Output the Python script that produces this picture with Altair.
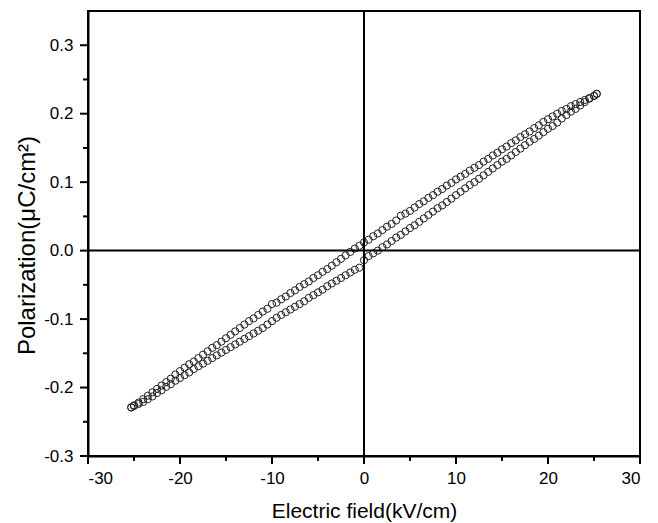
import altair as alt
import pandas as pd

# Electric field sample points (kV/cm), shared by both branches
E_FIELD = [-25.3, -25.0, -24.5, -24.0, -23.5, -23.0, -22.5, -22.0, -21.5, -21.0,
           -20.5, -20.0, -19.5, -19.0, -18.5, -18.0, -17.5, -17.0, -16.5, -16.0,
           -15.5, -15.0, -14.5, -14.0, -13.5, -13.0, -12.5, -12.0, -11.5, -11.0,
           -10.5, -10.0, -9.5, -9.0, -8.5, -8.0, -7.5, -7.0, -6.5, -6.0,
           -5.5, -5.0, -4.5, -4.0, -3.5, -3.0, -2.5, -2.0, -1.5, -1.0,
           -0.5, 0.0, 0.5, 1.0, 1.5, 2.0, 2.5, 3.0, 3.5, 4.0,
           4.5, 5.0, 5.5, 6.0, 6.5, 7.0, 7.5, 8.0, 8.5, 9.0,
           9.5, 10.0, 10.5, 11.0, 11.5, 12.0, 12.5, 13.0, 13.5, 14.0,
           14.5, 15.0, 15.5, 16.0, 16.5, 17.0, 17.5, 18.0, 18.5, 19.0,
           19.5, 20.0, 20.5, 21.0, 21.5, 22.0, 22.5, 23.0, 23.5, 24.0,
           24.5, 25.0, 25.3]

# Descending-field branch (upper) polarization, uC/cm^2
P_UPPER = [-0.229, -0.226, -0.222, -0.217, -0.212, -0.207, -0.202, -0.197, -0.192, -0.187,
           -0.181, -0.176, -0.171, -0.166, -0.162, -0.157, -0.152, -0.147, -0.142, -0.138,
           -0.133, -0.128, -0.123, -0.118, -0.113, -0.108, -0.103, -0.099, -0.094, -0.089,
           -0.085, -0.078, -0.076, -0.071, -0.067, -0.062, -0.058, -0.053, -0.049, -0.045,
           -0.040, -0.036, -0.031, -0.027, -0.022, -0.017, -0.012, -0.007, -0.002, 0.003,
           0.007, 0.012, 0.016, 0.021, 0.025, 0.030, 0.035, 0.039, 0.044, 0.051,
           0.054, 0.058, 0.063, 0.068, 0.072, 0.077, 0.081, 0.086, 0.090, 0.095,
           0.099, 0.104, 0.108, 0.112, 0.117, 0.121, 0.125, 0.130, 0.134, 0.139,
           0.143, 0.148, 0.152, 0.157, 0.161, 0.166, 0.170, 0.174, 0.179, 0.183,
           0.188, 0.192, 0.196, 0.200, 0.204, 0.207, 0.211, 0.214, 0.217, 0.220,
           0.223, 0.226, 0.229]

# Ascending-field branch (lower) polarization, uC/cm^2
P_LOWER = [-0.229, -0.227, -0.224, -0.221, -0.217, -0.213, -0.208, -0.204, -0.199, -0.195,
           -0.190, -0.186, -0.182, -0.178, -0.173, -0.169, -0.165, -0.161, -0.157, -0.153,
           -0.149, -0.145, -0.141, -0.137, -0.133, -0.129, -0.125, -0.121, -0.117, -0.113,
           -0.108, -0.103, -0.098, -0.094, -0.090, -0.086, -0.082, -0.078, -0.074, -0.069,
           -0.065, -0.061, -0.057, -0.052, -0.048, -0.044, -0.040, -0.036, -0.032, -0.028,
           -0.025, -0.014, -0.008, -0.004, 0.000, 0.005, 0.009, 0.014, 0.019, 0.023,
           0.028, 0.033, 0.037, 0.042, 0.047, 0.052, 0.057, 0.062, 0.066, 0.071,
           0.076, 0.081, 0.086, 0.091, 0.096, 0.100, 0.105, 0.110, 0.115, 0.120,
           0.125, 0.130, 0.134, 0.139, 0.144, 0.149, 0.154, 0.159, 0.163, 0.168,
           0.173, 0.178, 0.182, 0.187, 0.193, 0.198, 0.203, 0.207, 0.212, 0.217,
           0.222, 0.226, 0.229]

X_MAJOR = [-30, -20, -10, 0, 10, 20, 30]
X_MINOR = [-25, -15, -5, 5, 15, 25]
Y_MAJOR = [-0.3, -0.2, -0.1, 0.0, 0.1, 0.2, 0.3]
Y_MINOR = [-0.25, -0.15, -0.05, 0.05, 0.15, 0.25]
X_DOMAIN = [-30, 30]
Y_DOMAIN = [-0.3, 0.35]

W, H = 552, 445
MAJOR_LEN, MINOR_LEN = 8, 5

n = len(E_FIELD)
df = pd.DataFrame({
    "E": E_FIELD + E_FIELD,
    "P": P_UPPER + P_LOWER,
    "branch": ["down"] * n + ["up"] * n,
})

FONT = "Liberation Sans"

xscale = alt.Scale(domain=X_DOMAIN, nice=False, zero=False)
yscale = alt.Scale(domain=Y_DOMAIN, nice=False, zero=False)

xaxis = alt.Axis(
    orient="bottom", values=X_MAJOR, ticks=False,
    labelExpr="'' + datum.value",
    domainColor="black", domainWidth=2,
    grid=False, labelFont=FONT, labelFontSize=17, labelColor="black", labelPadding=14,
    title="Electric field(kV/cm)", titleFont=FONT, titleFontSize=21,
    titleFontWeight="normal", titleColor="black", titlePadding=14,
)
yaxis = alt.Axis(
    orient="left", values=Y_MAJOR, ticks=False,
    labelExpr="replace(format(datum.value, '.1f'), '\u2212', '-')",
    domainColor="black", domainWidth=2,
    grid=False, labelFont=FONT, labelFontSize=17, labelColor="black", labelPadding=15,
    title="Polarization(\u03bcC/cm\u00b2)", titleFont=FONT, titleFontSize=24,
    titleFontWeight="normal", titleColor="black", titlePadding=4, titleY=234,
)

points = alt.Chart(df).mark_point(
    shape="circle", filled=False, stroke="#222222", strokeWidth=1, size=52, opacity=1
).encode(
    x=alt.X("E:Q", scale=xscale, axis=xaxis),
    y=alt.Y("P:Q", scale=yscale, axis=yaxis),
)

vzero = alt.Chart(pd.DataFrame({"E": [0]})).mark_rule(color="black", strokeWidth=2).encode(
    x=alt.X("E:Q", scale=xscale)
)
hzero = alt.Chart(pd.DataFrame({"P": [0]})).mark_rule(color="black", strokeWidth=2).encode(
    y=alt.Y("P:Q", scale=yscale)
)

def xticks(vals, length):
    return alt.Chart(pd.DataFrame({"E": vals})).mark_rule(
        color="black", strokeWidth=2, clip=False
    ).encode(
        x=alt.X("E:Q", scale=xscale),
        y=alt.value(H), y2=alt.value(H + length),
    )

def yticks(vals, length):
    return alt.Chart(pd.DataFrame({"P": vals})).mark_rule(
        color="black", strokeWidth=2, clip=False
    ).encode(
        y=alt.Y("P:Q", scale=yscale),
        x=alt.value(-length), x2=alt.value(0),
    )

chart = alt.layer(
    points, vzero, hzero,
    xticks(X_MAJOR, MAJOR_LEN), xticks(X_MINOR, MINOR_LEN),
    yticks(Y_MAJOR, MAJOR_LEN), yticks(Y_MINOR, MINOR_LEN),
).properties(
    width=W, height=H,
    padding={"left": 7, "top": 2, "right": 5, "bottom": 2},
).configure_view(
    stroke="black", strokeWidth=2
)

chart.save("out.html", embed_options={"renderer": "svg", "actions": False})
